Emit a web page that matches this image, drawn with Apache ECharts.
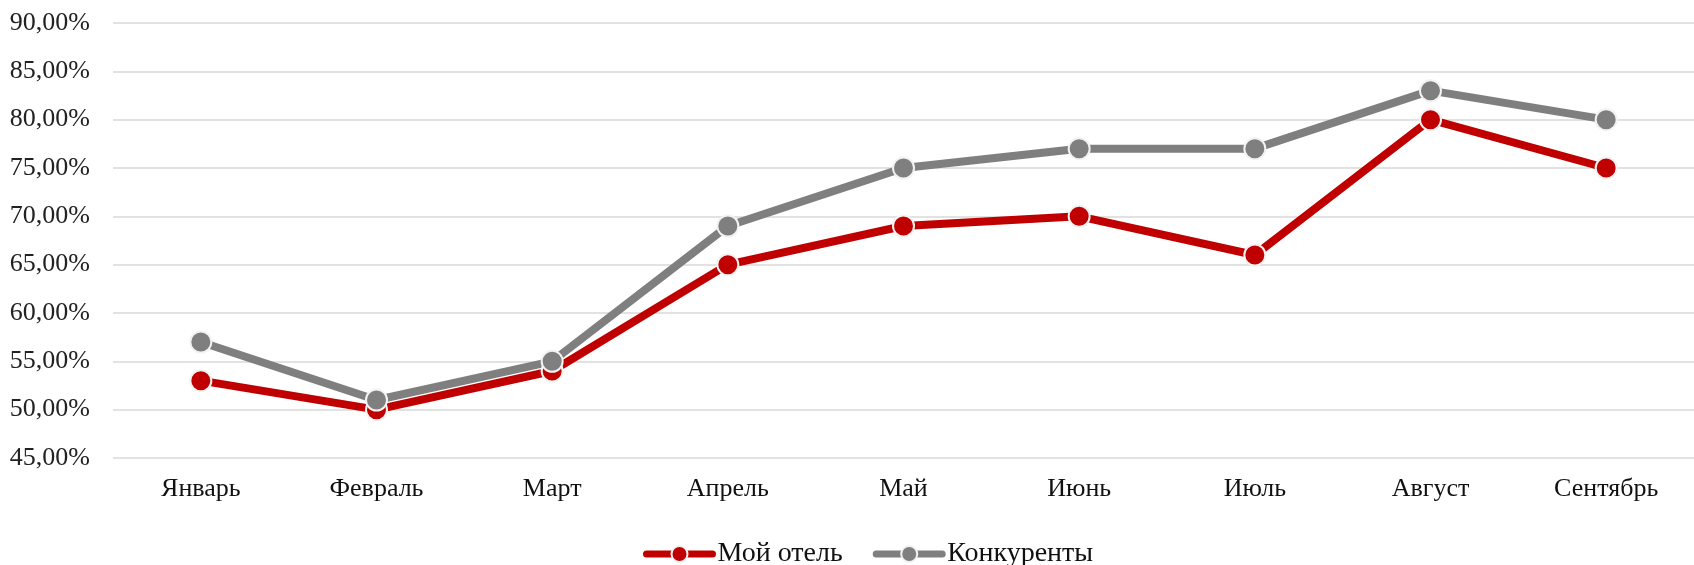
<!DOCTYPE html>
<html>
<head>
<meta charset="utf-8">
<script src="https://cdn.jsdelivr.net/npm/echarts@6/dist/echarts.min.js"></script>
<style>
	html, body { margin:0; padding:0; background:#fff; }
	#chart { width:1694px; height:565px; }
</style>
</head>
<body>
<div id="chart"></div>
<script>
var months = ["Январь", "Февраль", "Март", "Апрель", "Май", "Июнь", "Июль", "Август", "Сентябрь"];
var myHotel = [53, 50, 54, 65, 69, 70, 66, 80, 75];
var rivals = [57, 51, 55, 69, 75, 77, 77, 83, 80];

var FONT = "'Liberation Serif', 'DejaVu Serif', serif";

function pct(v)
{
	return v.toFixed(2).replace(".", ",") + "%";
}

function lineSeries(name, values, color)
{
	return {
		name: name,
		type: "line",
		data: values,
		symbol: "circle",
		symbolSize: 21,
		lineStyle: { color: color, width: 8 },
		itemStyle: { color: color, borderColor: "#f2f2f2", borderWidth: 2 },
		emphasis: { disabled: true }
	};
}

var chart = echarts.init(document.getElementById("chart"));
chart.setOption({
	animation: false,
	grid: { left: 113, right: 0, top: 23, bottom: 107 },
	legend: {
		left: 638,
		top: 535,
		itemWidth: 66,
		itemHeight: 20,
		itemGap: 30,
		lineStyle: { width: 7, cap: "round" },
		itemStyle: { borderWidth: 2, borderColor: "#f2f2f2" },
		textStyle: { fontFamily: FONT, fontSize: 28, color: "#111" },
		data: ["Мой отель", "Конкуренты"]
	},
	xAxis: {
		type: "category",
		data: months,
		axisLine: { show: false },
		axisTick: { show: false },
		axisLabel: { fontFamily: FONT, fontSize: 26, color: "#111", margin: 18 }
	},
	yAxis: {
		type: "value",
		min: 45,
		max: 90,
		interval: 5,
		axisLine: { show: false },
		axisTick: { show: false },
		axisLabel: { fontFamily: FONT, fontSize: 26, color: "#222", margin: 23, formatter: pct },
		splitLine: { lineStyle: { color: "#d9d9d9", width: 1.5 } }
	},
	series: [
		lineSeries("Мой отель", myHotel, "#c00000"),
		lineSeries("Конкуренты", rivals, "#7f7f7f")
	]
});
</script>
</body>
</html>
